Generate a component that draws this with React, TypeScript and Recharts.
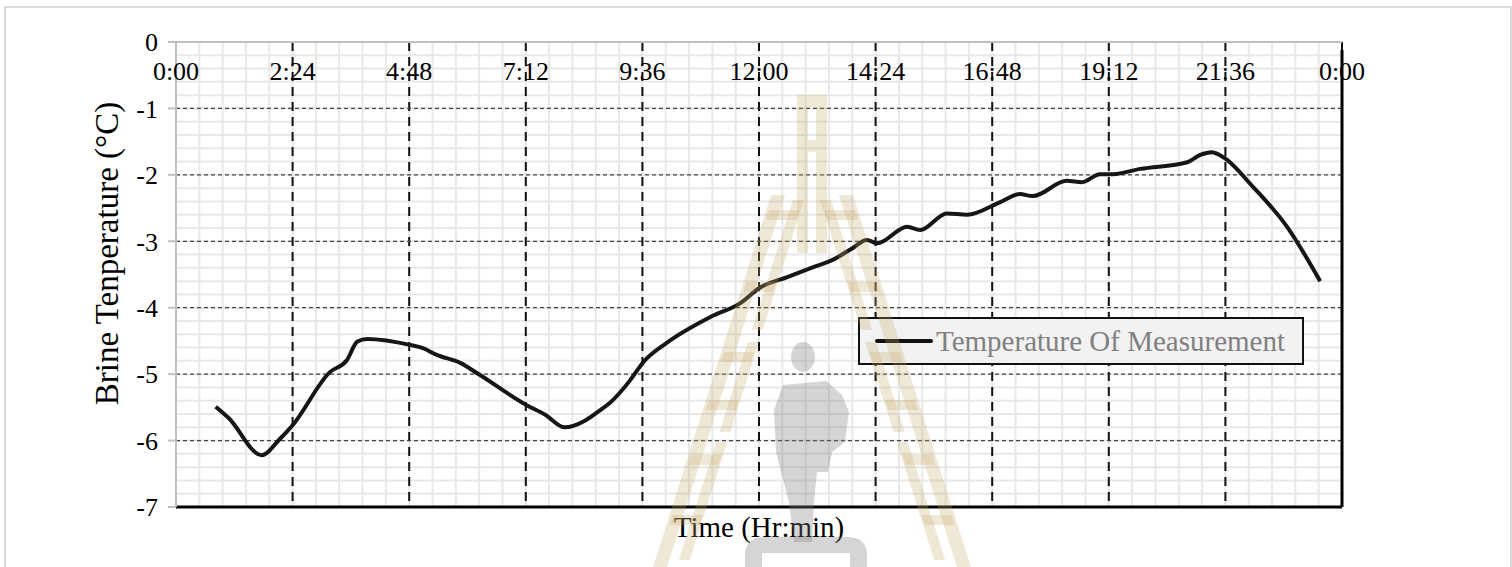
import React from "react";
import {
  LineChart,
  Line,
  XAxis,
  YAxis,
  CartesianGrid,
  ReferenceLine,
  Legend,
} from "recharts";

const FONT = '"Liberation Serif", "Times New Roman", serif';

// time of day in minutes since midnight
const timeMinutes = [
  49, 65, 106, 128, 144, 190, 211, 224, 236, 289, 305, 322, 351, 375, 432, 456,
  480, 505, 524, 536, 561, 577, 606, 660, 697, 721, 755, 787, 811, 836, 853,
  866, 903, 919, 952, 977, 1018, 1042, 1058, 1100, 1119, 1141, 1157, 1191,
  1249, 1265, 1279, 1293, 1330, 1372, 1413,
];

// brine temperature, °C
const brineTemp = [
  -5.49, -5.66, -6.22, -5.98, -5.77, -4.97, -4.79, -4.51, -4.47, -4.56, -4.61,
  -4.71, -4.83, -5.01, -5.46, -5.61, -5.8, -5.7, -5.54, -5.43, -5.09, -4.82,
  -4.53, -4.14, -3.93, -3.7, -3.54, -3.39, -3.28, -3.1, -2.98, -3.03, -2.78,
  -2.83, -2.58, -2.6, -2.41, -2.29, -2.32, -2.09, -2.11, -1.99, -1.99, -1.91,
  -1.81, -1.7, -1.66, -1.73, -2.18, -2.78, -3.6,
];

const timeTicks = [0, 144, 288, 432, 576, 720, 864, 1008, 1152, 1296, 1440];
const tempTicks = [0, -1, -2, -3, -4, -5, -6, -7];

// minor gridlines: 5 divisions per major step
const minorTime = Array.from({ length: 51 }, (_, i) => i * 28.8);
const minorTemp = Array.from({ length: 36 }, (_, i) => -i * 0.2);

const data = timeMinutes.map((t, i) => ({ t, temp: brineTemp[i] }));

const fmtTime = (m: number) => {
  const h = Math.floor(m / 60) % 24;
  const mm = Math.round(m % 60);
  return `${h}:${String(mm).padStart(2, "0")}`;
};

// grid positions through the axis scale when available, else linear over the plot box
const minorXs = ({ xAxis, offset }: any) =>
  minorTime.map((v) =>
    xAxis && typeof xAxis.scale === "function"
      ? xAxis.scale(v)
      : offset.left + (offset.width * v) / 1440
  );
const minorYs = ({ yAxis, offset }: any) =>
  minorTemp.map((v) =>
    yAxis && typeof yAxis.scale === "function"
      ? yAxis.scale(v)
      : offset.top + (offset.height * -v) / 7
  );

const TimeTick = (props: any) => {
  const { x, y, payload } = props;
  return (
    <text x={x} y={y + 38} textAnchor="middle" fontSize={26} fontFamily={FONT} fill="#000">
      {fmtTime(payload.value)}
    </text>
  );
};

const YTitle = (props: any) => {
  const { viewBox } = props;
  const cx = viewBox.x + viewBox.width / 2;
  const cy = viewBox.y + viewBox.height / 2 - 21;
  return (
    <text
      x={cx}
      y={cy}
      transform={`rotate(-90 ${cx} ${cy})`}
      textAnchor="middle"
      dominantBaseline="central"
      fontSize={33}
      fontFamily={FONT}
      fill="#000"
    >
      Brine Tenperature (°C)
    </text>
  );
};

const LegendBox = (props: any) => {
  const item = props.payload && props.payload[0];
  return (
    <div
      style={{
        boxSizing: "border-box",
        width: 446,
        height: 48,
        border: "2px solid #111",
        background: "#f2f2f2",
        display: "flex",
        alignItems: "center",
        paddingLeft: 14,
      }}
    >
      <svg width={60} height={8}>
        <line x1={3} y1={4} x2={57} y2={4} stroke="#111" strokeWidth={4} strokeLinecap="round" />
      </svg>
      <span style={{ marginLeft: 2, fontSize: 29, color: "#808080", fontFamily: FONT, whiteSpace: "nowrap" }}>
        {item ? item.value : ""}
      </span>
    </div>
  );
};

// faint institutional logo sitting over the plot
const Watermark = () => {
  const legX = (y: number) => 778 - (y - 195) * 0.317;
  const strip = (y0: number, y1: number, dx: number, w: number) => {
    const a = legX(y0) + dx;
    const b = legX(y1) + dx;
    return `${a - w / 2},${y0} ${a + w / 2},${y0} ${b + w / 2},${y1} ${b - w / 2},${y1}`;
  };
  const mirror = (pts: string) =>
    pts
      .split(" ")
      .map((p) => {
        const [x, y] = p.split(",").map(Number);
        return `${1624 - x},${y}`;
      })
      .join(" ");
  const left: string[] = [
    strip(195, 567, 0, 14),
    strip(200, 330, 22, 11),
    strip(342, 432, 22, 11),
    strip(442, 560, 22, 11),
    strip(210, 220, 11, 30),
    strip(282, 292, 11, 30),
    strip(352, 362, 11, 30),
    strip(400, 410, 11, 30),
    strip(455, 465, 11, 30),
    strip(515, 525, 11, 30),
  ];
  return (
    <svg
      width={1512}
      height={567}
      style={{ position: "absolute", left: 0, top: 0, pointerEvents: "none" }}
    >
      <g fill="#c9a96a" fillOpacity={0.27}>
        {left.map((p, i) => (
          <polygon key={`l${i}`} points={p} />
        ))}
        {left.map((p, i) => (
          <polygon key={`r${i}`} points={mirror(p)} />
        ))}
        <rect x={797} y={95} width={11} height={158} />
        <rect x={816} y={95} width={11} height={158} />
        <rect x={808} y={95} width={8} height={12} />
        <rect x={808} y={140} width={8} height={12} />
      </g>
      <g fill="#808080" fillOpacity={0.33}>
        <ellipse cx={803} cy={357} rx={12} ry={15} />
        <polygon points="783,385 826,381 842,395 849,412 845,442 832,452 828,472 817,472 814,502 812,542 794,542 789,502 776,452 774,410" />
        <path d="M745,567 L745,555 Q745,537 765,537 L847,537 Q867,537 867,555 L867,567 L850,567 L850,553 L762,553 L762,567 Z" />
      </g>
    </svg>
  );
};

export default function App() {
  return (
    <div
      style={{
        position: "absolute",
        left: 0,
        top: 0,
        width: 1512,
        height: 567,
        overflow: "hidden",
        background: "#fff",
        fontFamily: FONT,
      }}
    >
      <div
        style={{
          position: "absolute",
          left: 4,
          top: 6,
          width: 1508,
          height: 580,
          boxSizing: "border-box",
          border: "2px solid #d9d9d9",
        }}
      />
      <LineChart
        width={1512}
        height={567}
        data={data}
        margin={{ top: 40, right: 170, bottom: 60, left: 38 }}
      >
        <CartesianGrid
          stroke="#e8e8e8"
          strokeWidth={2}
          verticalCoordinatesGenerator={minorXs}
          horizontalCoordinatesGenerator={minorYs}
        />
        <CartesianGrid horizontal={false} stroke="#111" strokeWidth={2} strokeDasharray="9 6" />
        <CartesianGrid vertical={false} stroke="#444" strokeWidth={1.3} strokeDasharray="4 3" />
        <XAxis
          type="number"
          dataKey="t"
          orientation="top"
          domain={[0, 1440]}
          ticks={timeTicks}
          interval={0}
          height={2}
          tickSize={0}
          tickMargin={0}
          tickLine={false}
          axisLine={{ stroke: "#c0c0c0", strokeWidth: 2 }}
          tick={<TimeTick />}
        />
        <YAxis
          type="number"
          domain={[-7, 0]}
          ticks={tempTicks}
          interval={0}
          width={138}
          tickSize={8}
          tickMargin={10}
          tickLine={{ stroke: "#c0c0c0", strokeWidth: 2 }}
          axisLine={{ stroke: "#c0c0c0", strokeWidth: 2 }}
          tick={{ fill: "#000", fontSize: 26, fontFamily: FONT }}
          label={{ content: <YTitle /> }}
        />
        <ReferenceLine
          y={-7}
          stroke="#000"
          strokeWidth={3}
          label={{
            value: "Time (Hr:min)",
            position: "bottom",
            offset: 9,
            fontSize: 29,
            fontFamily: FONT,
            fill: "#000",
          }}
        />
        <ReferenceLine
          segment={[
            { x: 1440, y: -0.12 },
            { x: 1440, y: -7 },
          ]}
          stroke="#000"
          strokeWidth={3}
        />
        <Legend
          layout="horizontal"
          align="center"
          verticalAlign="middle"
          content={<LegendBox />}
          wrapperStyle={{ left: 858, top: 317, width: 446, bottom: "auto" }}
        />
        <Line
          type="monotone"
          dataKey="temp"
          name="Temperature Of Measurement"
          stroke="#161616"
          strokeWidth={4}
          dot={false}
          isAnimationActive={false}
        />
      </LineChart>
      <Watermark />
    </div>
  );
}
